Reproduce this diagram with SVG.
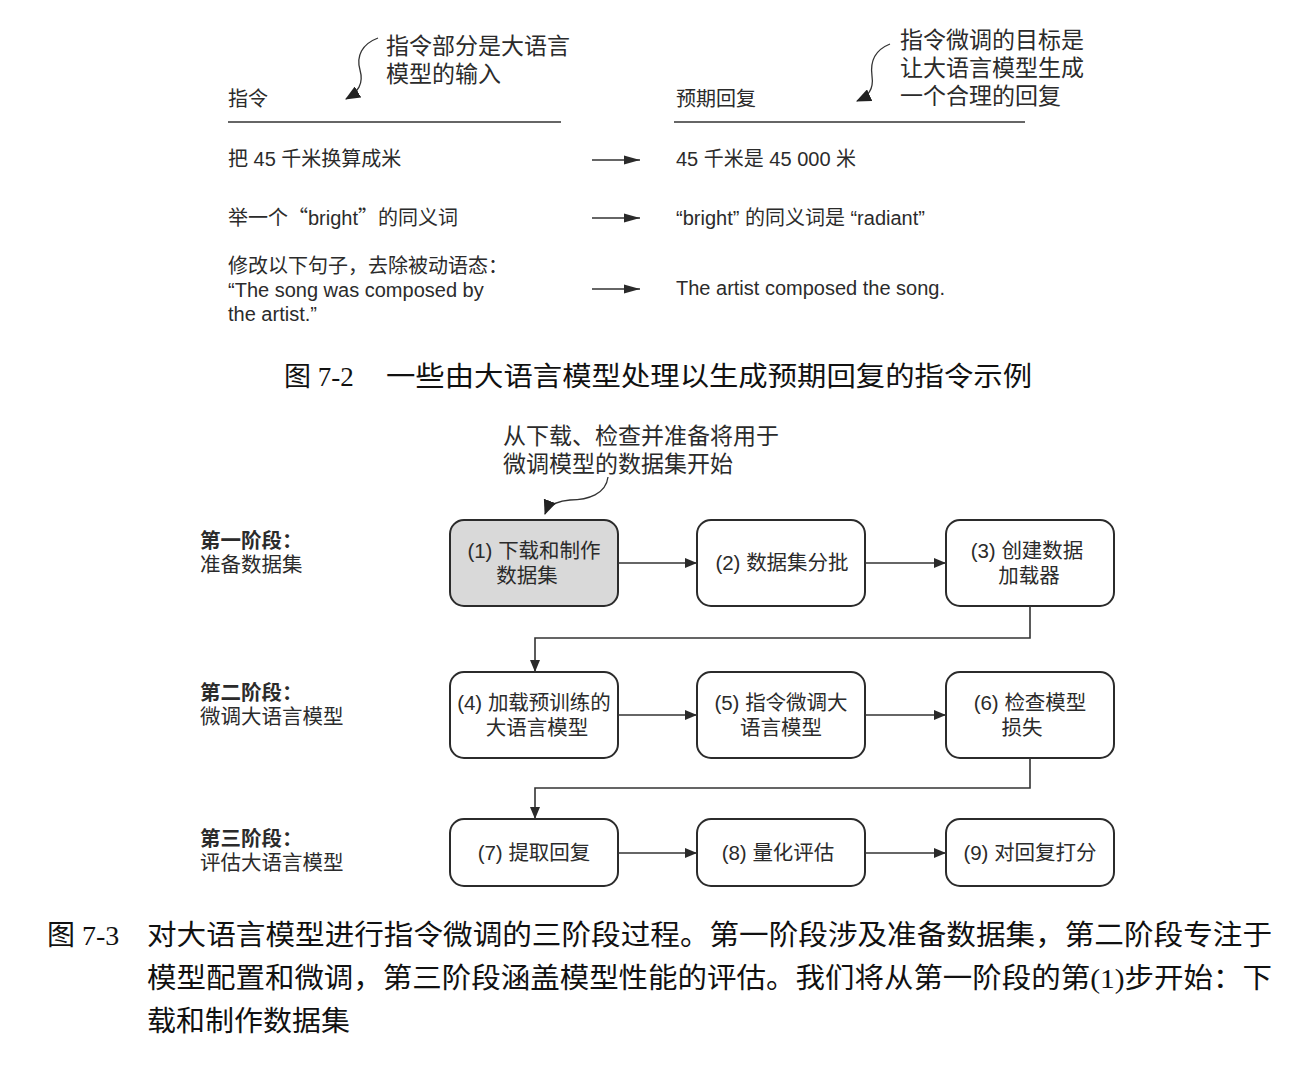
<svg xmlns="http://www.w3.org/2000/svg" width="1314" height="1074" viewBox="0 0 1314 1074">
<defs>
<marker id="ah" viewBox="0 0 12 10" refX="12" refY="5" markerWidth="12" markerHeight="10" markerUnits="userSpaceOnUse" orient="auto">
<path d="M0,0 L12,5 L0,10 Z" fill="#2a2a2a"/>
</marker>
<marker id="ahr" viewBox="0 0 16 10" refX="16" refY="5" markerWidth="16" markerHeight="10" markerUnits="userSpaceOnUse" orient="auto">
<path d="M0,0.5 L16,5 L0,9.5 Z" fill="#2a2a2a"/>
</marker>
<marker id="ahc" viewBox="0 0 14 12" refX="13" refY="6" markerWidth="15" markerHeight="13" markerUnits="userSpaceOnUse" orient="auto">
<path d="M0,0 L14,6 L0,12 Z" fill="#222"/>
</marker>
</defs>
<style>
.t{font-family:"Liberation Sans","Noto Sans CJK SC",sans-serif;fill:#2b2b2b}
.cj{font-family:"Noto Sans CJK SC",sans-serif}
.s20{font-size:20px}
.s205{font-size:20.5px}
.s23{font-size:23px}
.b{font-weight:bold}
.cap{font-family:"Liberation Serif","Noto Sans CJK SC",serif;fill:#111}
.box{fill:#fff;stroke:#2b2b2b;stroke-width:2}
.grey{fill:#d9d9d9}
.mid{text-anchor:middle}
.con{fill:none;stroke:#333;stroke-width:1.6}
.rule{stroke:#666;stroke-width:2}
.curl{fill:none;stroke:#333;stroke-width:1.3}
</style>
<rect width="1314" height="1074" fill="#fff"/>

<!-- Figure 7-2 -->
<g id="header-instruction">
<text class="t s20" x="228" y="106">指令</text>
<line class="rule" x1="228" y1="122" x2="561" y2="122"/>
</g>
<g id="header-response">
<text class="t s20" x="676" y="106">预期回复</text>
<line class="rule" x1="674" y1="122" x2="1025" y2="122"/>
</g>
<g id="callout-input">
<text class="t s23" x="386" y="54">指令部分是大语言</text>
<text class="t s23" x="386" y="82">模型的输入</text>
</g>
<g id="callout-goal">
<text class="t s23" x="900" y="48">指令微调的目标是</text>
<text class="t s23" x="900" y="76">让大语言模型生成</text>
<text class="t s23" x="900" y="104">一个合理的回复</text>
</g>
<g id="row1-in"><text class="t s20" x="228" y="166">把 45 千米换算成米</text></g>
<g id="row1-out"><text class="t s20" x="676" y="166">45 千米是 45 000 米</text></g>
<g id="row2-in"><text class="t s20" x="228" y="225">举一个<tspan class="cj">“</tspan>bright<tspan class="cj">”</tspan>的同义词</text></g>
<g id="row2-out"><text class="t s20" x="676" y="225" xml:space="preserve">“bright” 的同义词是 “radiant”</text></g>
<g id="row3-in">
<text class="t s20" x="228" y="273">修改以下句子，去除被动语态：</text>
<text class="t s20" x="228" y="297">“The song was composed by</text>
<text class="t s20" x="228" y="321">the artist.”</text>
</g>
<g id="row3-out"><text class="t s20" x="676" y="295">The artist composed the song.</text></g>

<g id="caption-7-2">
<text class="cap" x="284" y="386" font-size="27">图 7-2</text>
<text class="cap" x="386" y="386" font-size="27" textLength="646" lengthAdjust="spacingAndGlyphs">一些由大语言模型处理以生成预期回复的指令示例</text>
</g>

<!-- Figure 7-3 -->
<g id="callout-start">
<text class="t s23" x="503" y="444">从下载、检查并准备将用于</text>
<text class="t s23" x="503" y="472">微调模型的数据集开始</text>
</g>

<g id="stage1-label">
<text class="t s205 b" x="200" y="548">第一阶段：</text>
<text class="t s205" x="200" y="572">准备数据集</text>
</g>
<g id="stage2-label">
<text class="t s205 b" x="200" y="700">第二阶段：</text>
<text class="t s205" x="200" y="724">微调大语言模型</text>
</g>
<g id="stage3-label">
<text class="t s205 b" x="200" y="846">第三阶段：</text>
<text class="t s205" x="200" y="870">评估大语言模型</text>
</g>

<g id="node1">
<rect class="box grey" x="450" y="520" width="168" height="86" rx="14"/>
<text class="t s205 mid" x="534" y="558">(1) 下载和制作</text>
<text class="t s205 mid" x="527" y="583">数据集</text>
</g>
<g id="node2">
<rect class="box" x="697" y="520" width="168" height="86" rx="14"/>
<text class="t s205 mid" x="782" y="570">(2) 数据集分批</text>
</g>
<g id="node3">
<rect class="box" x="946" y="520" width="168" height="86" rx="14"/>
<text class="t s205 mid" x="1027" y="558">(3) 创建数据</text>
<text class="t s205 mid" x="1029" y="583">加载器</text>
</g>
<g id="node4">
<rect class="box" x="450" y="672" width="168" height="86" rx="14"/>
<text class="t s205 mid" x="534" y="710">(4) 加载预训练的</text>
<text class="t s205 mid" x="537" y="735">大语言模型</text>
</g>
<g id="node5">
<rect class="box" x="697" y="672" width="168" height="86" rx="14"/>
<text class="t s205 mid" x="781" y="710">(5) 指令微调大</text>
<text class="t s205 mid" x="781" y="735">语言模型</text>
</g>
<g id="node6">
<rect class="box" x="946" y="672" width="168" height="86" rx="14"/>
<text class="t s205 mid" x="1030" y="710">(6) 检查模型</text>
<text class="t s205 mid" x="1022" y="735">损失</text>
</g>
<g id="node7">
<rect class="box" x="450" y="819" width="168" height="67" rx="14"/>
<text class="t s205 mid" x="534" y="860">(7) 提取回复</text>
</g>
<g id="node8">
<rect class="box" x="697" y="819" width="168" height="67" rx="14"/>
<text class="t s205 mid" x="778" y="860">(8) 量化评估</text>
</g>
<g id="node9">
<rect class="box" x="946" y="819" width="168" height="67" rx="14"/>
<text class="t s205 mid" x="1030" y="860">(9) 对回复打分</text>
</g>

<g id="caption-7-3">
<text class="cap" x="47" y="945" font-size="28">图 7-3</text>
<text class="cap" x="147" y="945" font-size="28" textLength="1125" lengthAdjust="spacingAndGlyphs">对大语言模型进行指令微调的三阶段过程。第一阶段涉及准备数据集，第二阶段专注于</text>
<text class="cap" x="147" y="988" font-size="28" textLength="1125" lengthAdjust="spacingAndGlyphs">模型配置和微调，第三阶段涵盖模型性能的评估。我们将从第一阶段的第(1)步开始：下</text>
<text class="cap" x="147" y="1031" font-size="28" textLength="203" lengthAdjust="spacingAndGlyphs">载和制作数据集</text>
</g>

<g id="connectors">
<path class="curl" d="M378,38 C362,44 356,56 360,70 C364,84 358,92 346,99" marker-end="url(#ahc)"/>
<path class="curl" d="M890,44 C875,50 870,62 872,76 C874,90 868,96 857,101" marker-end="url(#ahc)"/>
<path class="curl" d="M608,477 C606,494 588,500 570,500 C556,501 548,506 545,514" marker-end="url(#ahc)"/>
<line class="con" x1="592" y1="160" x2="640" y2="160" marker-end="url(#ahr)"/>
<line class="con" x1="592" y1="218" x2="640" y2="218" marker-end="url(#ahr)"/>
<line class="con" x1="592" y1="289" x2="640" y2="289" marker-end="url(#ahr)"/>
<line class="con" x1="618" y1="563" x2="697" y2="563" marker-end="url(#ah)"/>
<line class="con" x1="865" y1="563" x2="946" y2="563" marker-end="url(#ah)"/>
<polyline class="con" points="1030,606 1030,638 535,638 535,672" marker-end="url(#ah)"/>
<line class="con" x1="618" y1="715" x2="697" y2="715" marker-end="url(#ah)"/>
<line class="con" x1="865" y1="715" x2="946" y2="715" marker-end="url(#ah)"/>
<polyline class="con" points="1030,758 1030,788 535,788 535,819" marker-end="url(#ah)"/>
<line class="con" x1="618" y1="853" x2="697" y2="853" marker-end="url(#ah)"/>
<line class="con" x1="865" y1="853" x2="946" y2="853" marker-end="url(#ah)"/>
</g>
</svg>
